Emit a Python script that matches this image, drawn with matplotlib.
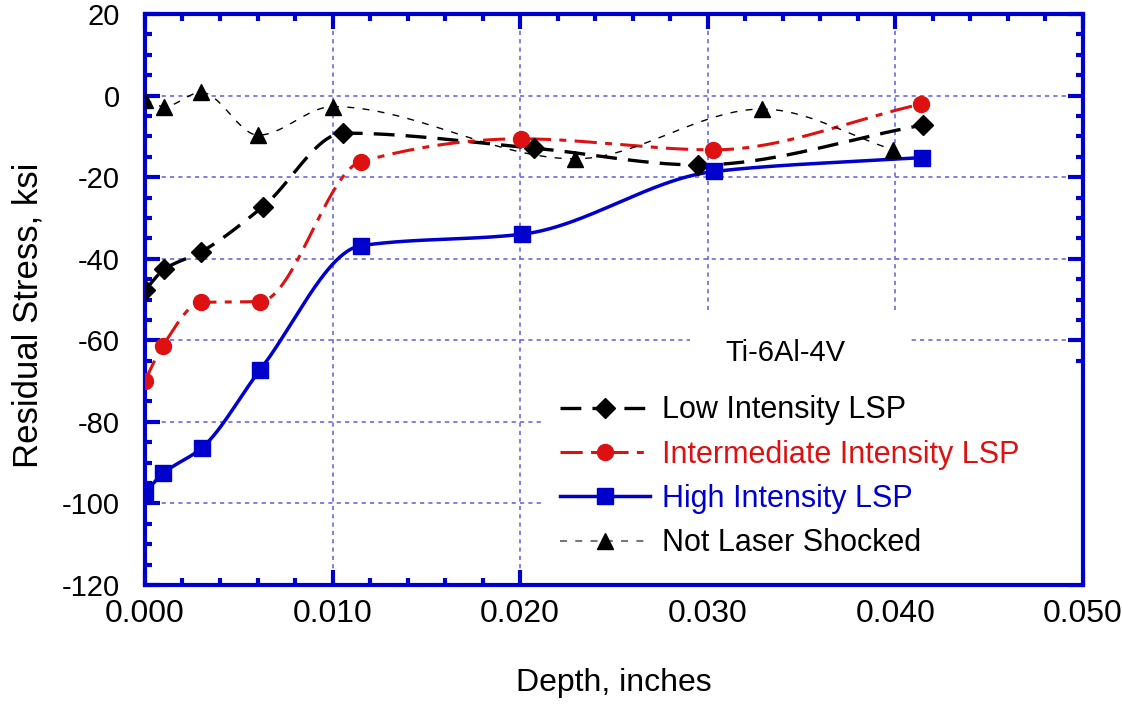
import numpy as np
import matplotlib
matplotlib.use("Agg")
import matplotlib.pyplot as plt
from matplotlib.patches import Rectangle
from matplotlib.ticker import MultipleLocator, FormatStrFormatter

plt.rcParams["font.family"] = ["Liberation Sans", "DejaVu Sans"]
plt.rcParams["axes.unicode_minus"] = False
plt.rcParams["lines.scale_dashes"] = False

BLUE = "#0000CC"
RED = "#DD1111"
GRID = "#6A6AE0"

# Values (depth in inches, stress in ksi)
low_depth = [0.0000, 0.00103, 0.0030, 0.0063, 0.01057, 0.02075, 0.0295, 0.0415]
low_stress = [-47.7, -42.6, -38.3, -27.2, -9.2, -12.9, -17.0, -7.2]

mid_depth = [0.0000, 0.00094, 0.0030, 0.00613, 0.01151, 0.02004, 0.0303, 0.04136]
mid_stress = [-69.9, -61.4, -50.7, -50.5, -16.2, -10.6, -13.3, -2.1]

high_depth = [0.0000, 0.00098, 0.00305, 0.00613, 0.01151, 0.02008, 0.03035, 0.0414]
high_stress = [-97.3, -92.6, -86.3, -67.3, -36.8, -34.0, -18.6, -15.2]

base_depth = [0.0000, 0.00103, 0.0030, 0.00604, 0.0100, 0.02294, 0.0329, 0.0399]
base_stress = [-1.0, -2.7, 0.8, -9.7, -2.7, -15.5, -3.3, -13.3]


def smooth(x, y, n=400):
    # monotone cubic (Fritsch-Carlson) curve through the points, for drawing only
    x = np.asarray(x, float)
    y = np.asarray(y, float)
    h = np.diff(x)
    delta = np.diff(y) / h
    m = len(x)
    d = np.zeros(m)
    for k in range(1, m - 1):
        if delta[k - 1] * delta[k] > 0:
            w1 = 2 * h[k] + h[k - 1]
            w2 = h[k] + 2 * h[k - 1]
            d[k] = (w1 + w2) / (w1 / delta[k - 1] + w2 / delta[k])
    d[0] = delta[0]
    d[-1] = delta[-1]
    xs = np.linspace(x[0], x[-1], n)
    k = np.clip(np.searchsorted(x, xs) - 1, 0, m - 2)
    t = (xs - x[k]) / h[k]
    h00 = 2 * t ** 3 - 3 * t ** 2 + 1
    h10 = t ** 3 - 2 * t ** 2 + t
    h01 = -2 * t ** 3 + 3 * t ** 2
    h11 = t ** 3 - t ** 2
    ys = h00 * y[k] + h10 * h[k] * d[k] + h01 * y[k + 1] + h11 * h[k] * d[k + 1]
    return xs, ys


fig = plt.figure(figsize=(11.22, 7.27), dpi=100)
ax = fig.add_axes([0.1292, 0.1953, 0.8360, 0.7854])

series = [
    (low_depth, low_stress, "k", "D", 10, (0, (15, 8)), 2.4, "Low Intensity LSP"),
    (mid_depth, mid_stress, RED, "o", 11.5, (0, (16, 6, 5, 6)), 2.2, "Intermediate Intensity LSP"),
    (high_depth, high_stress, BLUE, "s", 12, "-", 2.5, "High Intensity LSP"),
    (base_depth, base_stress, "k", "^", 11.5, (0, (5, 6)), 1.0, "Not Laser Shocked"),
]

handles = []
for x, y, col, mk, ms, ls, lw, lab in series:
    xs, ys = smooth(x, y)
    ax.plot(xs, ys, color=col, linestyle=ls, linewidth=lw, zorder=3)
    ax.plot(x, y, linestyle="none", marker=mk, markersize=ms, color=col, zorder=4)
    hcol = "#777777" if lab == "Not Laser Shocked" else col
    h, = ax.plot([], [], color=hcol, linestyle=ls, linewidth=lw if lw > 1 else 1.5,
                 marker=mk, markersize=ms, markerfacecolor=col, markeredgecolor=col)
    handles.append(h)

ax.set_xlim(0, 0.05)
ax.set_ylim(-120, 20)
ax.xaxis.set_major_locator(MultipleLocator(0.01))
ax.xaxis.set_minor_locator(MultipleLocator(0.002))
ax.yaxis.set_major_locator(MultipleLocator(20))
ax.yaxis.set_minor_locator(MultipleLocator(5))
ax.xaxis.set_major_formatter(FormatStrFormatter("%.3f"))

ax.grid(True, which="major", color=GRID, linestyle=(0, (3, 3)), linewidth=1.2, zorder=0)
for s in ax.spines.values():
    s.set_color(BLUE)
    s.set_linewidth(3)
ax.tick_params(which="both", direction="in", top=True, right=True, color=BLUE, width=3)
ax.tick_params(which="major", length=11)
ax.tick_params(which="minor", length=5)
ax.tick_params(axis="y", pad=18, labelsize=21)
ax.tick_params(axis="x", pad=10, labelsize=23)

ax.set_xlabel("Depth, inches", fontsize=23, labelpad=28)
ax.set_ylabel("Residual Stress, ksi", fontsize=25)
ax.yaxis.set_label_coords(-0.1066, 0.473)

# white areas behind the annotation and legend hide the grid there
ax.add_patch(Rectangle((0.581, 0.359), 0.232, 0.123, transform=ax.transAxes,
                       facecolor="white", edgecolor="none", zorder=2))
ax.add_patch(Rectangle((0.4264, 0.0), 0.5736, 0.368, transform=ax.transAxes,
                       facecolor="white", edgecolor="none", zorder=2))

ax.text(0.683, 0.406, "Ti-6Al-4V", transform=ax.transAxes, ha="center", va="center",
        fontsize=21, zorder=5)

leg = ax.legend(handles, [s[-1] for s in series], loc="upper left",
                bbox_to_anchor=(0.433, 0.3485), fontsize=22, frameon=False,
                handlelength=2.95, labelspacing=0.47, borderpad=0.3,
                handletextpad=0.38, borderaxespad=0)
for t, (_, _, col, *_rest) in zip(leg.get_texts(), series):
    t.set_color(col)
leg.set_zorder(5)

fig.savefig("out.png", dpi=100)
